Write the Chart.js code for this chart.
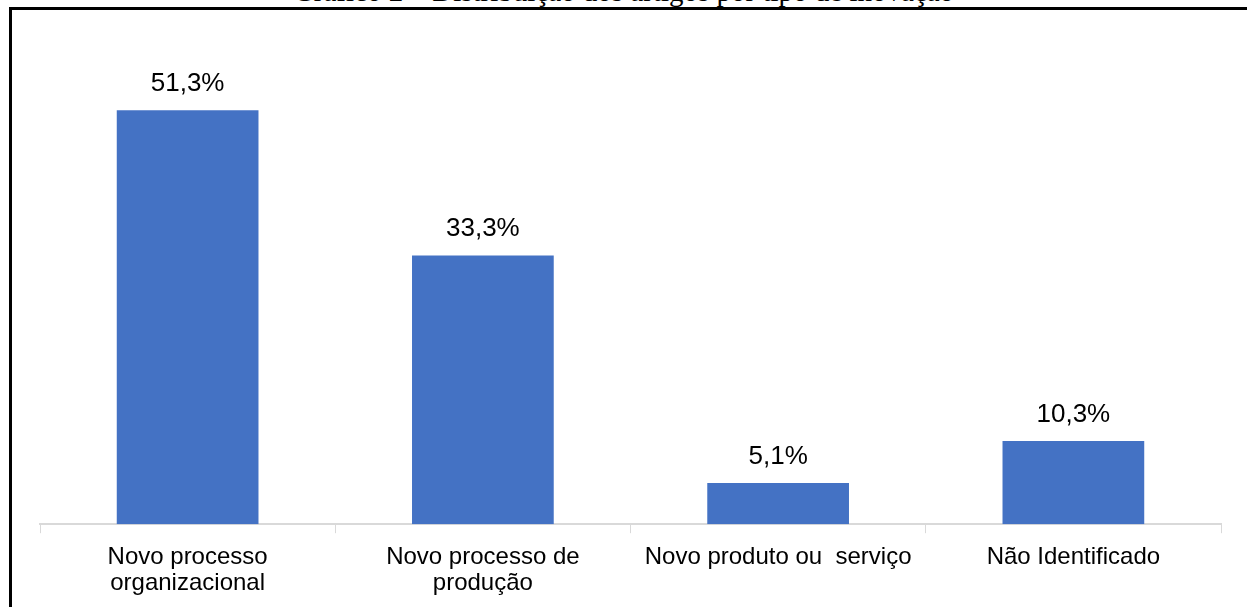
<!DOCTYPE html>
<html lang="pt">
<head>
<meta charset="utf-8">
<title>Gráfico 2 – Distribuição dos artigos por tipo de inovação</title>
<script src="https://cdn.jsdelivr.net/npm/chart.js@4/dist/chart.umd.min.js"></script>
<style>
  html, body { margin: 0; padding: 0; background: #fff; }
  #wrap { position: relative; width: 1247px; height: 607px; overflow: hidden; }
  #caption {
    position: absolute; left: 0; width: 1247px; top: -23px;
    text-align: center; font-family: "Liberation Serif", "Times New Roman", serif;
    font-size: 29px; line-height: 29px; color: #000; white-space: nowrap;
  }
  #frame {
    position: absolute; left: 9px; top: 7px; width: 1250px; height: 610px;
    border-left: 3px solid #000; border-top: 3px solid #000;
  }
  #chart { position: absolute; left: 0; top: 0; }
</style>
</head>
<body>
<div id="wrap">
  <div id="caption">Gráfico 2 – Distribuição dos artigos por tipo de inovação</div>
  <div id="frame"></div>
  <canvas id="chart" width="1247" height="607"></canvas>
</div>
<script>
// Tipos de inovação e percentual de artigos em cada um
const categories = [
  ["Novo processo", "organizacional"],
  ["Novo processo de", "produção"],
  "Novo produto ou  serviço",
  "Não Identificado"
];
const percentages = [51.3, 33.3, 5.1, 10.3];

const fontFamily = "'Liberation Sans', Arial, sans-serif";
const tickFontSize = 24;
const valueFontSize = 26;

// Escreve o valor de cada barra logo acima dela, com vírgula decimal
const valueLabels = {
  id: 'valueLabels',
  afterDatasetsDraw(chart) {
    const ctx = chart.ctx;
    const meta = chart.getDatasetMeta(0);
    ctx.save();
    ctx.font = valueFontSize + "px " + fontFamily;
    ctx.fillStyle = '#000';
    ctx.textAlign = 'center';
    ctx.textBaseline = 'alphabetic';
    meta.data.forEach((bar, i) => {
      const txt = percentages[i].toFixed(1).replace('.', ',') + '%';
      ctx.fillText(txt, bar.x, bar.y - 19);
    });
    ctx.restore();
  }
};

new Chart(document.getElementById('chart'), {
  type: 'bar',
  data: {
    labels: categories,
    datasets: [{
      data: percentages,
      backgroundColor: '#4472C4',
      borderWidth: 0,
      categoryPercentage: 1,
      barPercentage: 0.48
    }]
  },
  options: {
    responsive: false,
    animation: false,
    layout: { padding: { left: 40, right: 26, top: 40, bottom: 0 } },
    plugins: { legend: { display: false }, tooltip: { enabled: false } },
    scales: {
      x: {
        grid: {
          display: true,
          drawOnChartArea: false,
          drawTicks: true,
          tickLength: 9,
          color: '#d9d9d9',
          lineWidth: 1
        },
        border: { display: true, color: '#d9d9d9', width: 2 },
        ticks: {
          color: '#000',
          font: { family: fontFamily, size: tickFontSize, lineHeight: 1.08 },
          maxRotation: 0,
          minRotation: 0,
          autoSkip: false,
          padding: 11
        }
      },
      y: {
        display: false,
        min: 0,
        max: 60
      }
    }
  },
  plugins: [valueLabels]
});
</script>
</body>
</html>
